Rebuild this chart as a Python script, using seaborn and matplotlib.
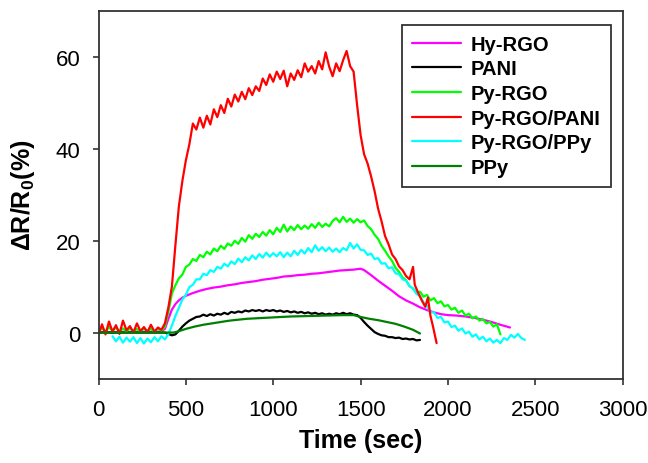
import numpy as np
import pandas as pd
import matplotlib
matplotlib.use("Agg")
import matplotlib.pyplot as plt
import seaborn as sns

# ---------------- data ----------------
series_names = ["Hy-RGO", "PANI", "Py-RGO", "Py-RGO/PANI", "Py-RGO/PPy", "PPy"]
series_colors = ["#ff00ff", "#000000", "#00ff00", "#ff0000", "#00ffff", "#008000"]

t_hy = [0, 40, 80, 120, 160, 200, 240, 280, 320, 360, 380, 400, 420, 440, 460, 480, 500,
        540, 580, 620, 660, 700, 740, 780, 820, 860, 900, 940, 980, 1020, 1060, 1100,
        1140, 1180, 1220, 1260, 1300, 1340, 1380, 1420, 1460, 1500, 1520, 1560, 1600,
        1640, 1680, 1720, 1760, 1800, 1840, 1880, 1920, 1960, 2000, 2050, 2100, 2150,
        2200, 2250, 2300, 2355]
y_hy = [0.0, 0.2, 0.0, 0.2, 0.1, 0.2, 0.1, 0.2, 0.1, 0.3, 0.8, 3.0, 5.0, 6.2, 7.0, 7.6, 8.0,
        8.6, 9.1, 9.5, 9.8, 10.0, 10.3, 10.5, 10.8, 11.0, 11.2, 11.5, 11.7, 11.9, 12.2, 12.3,
        12.5, 12.6, 12.8, 12.9, 13.1, 13.3, 13.5, 13.6, 13.7, 13.9, 13.6, 12.5, 11.3,
        10.2, 9.1, 7.9, 7.0, 6.3, 5.5, 4.9, 4.4, 4.0, 3.8, 3.7, 3.5, 3.2,
        2.8, 2.3, 1.7, 1.1]

t_pani = [0, 100, 200, 300, 380, 400, 420, 440, 460, 480, 500, 520, 540, 560, 580, 600,
          620, 640, 660, 680, 700, 720, 740, 760, 780, 800, 820, 840, 860, 880, 900, 920,
          940, 960, 980, 1000, 1020, 1040, 1060, 1080, 1100, 1120, 1140, 1160, 1180, 1200,
          1220, 1240, 1260, 1280, 1300, 1320, 1340, 1360, 1380, 1400, 1420, 1440, 1460,
          1480, 1500, 1520, 1540, 1560, 1580, 1600, 1620, 1640, 1660, 1680, 1700, 1720,
          1740, 1760, 1780, 1800, 1820, 1840]
y_pani = [0.0, 0.0, 0.0, 0.0, 0.0, -0.3, -0.6, -0.4, 0.4, 1.3, 2.0, 2.6, 3.0, 3.4, 3.5, 3.9,
          3.6, 4.0, 3.7, 4.1, 3.9, 4.3, 4.0, 4.5, 4.3, 4.6, 4.4, 4.8, 4.6, 4.9, 4.7, 4.9,
          4.6, 4.9, 4.7, 4.9, 4.6, 4.8, 4.5, 4.7, 4.4, 4.6, 4.3, 4.5, 4.2, 4.4,
          4.1, 4.3, 4.0, 4.2, 3.9, 4.1, 3.9, 4.2, 4.0, 4.3, 4.0, 4.2, 3.9,
          3.8, 3.2, 2.3, 1.5, 0.8, 0.1, -0.3, -0.6, -0.7, -1.0, -1.0, -1.2, -1.1,
          -1.4, -1.3, -1.5, -1.4, -1.7, -1.6]

t_pyrgo = [0, 20, 40, 60, 80, 100, 120, 140, 160, 180, 200, 220, 240, 260, 280, 300, 320,
           340, 360, 380, 400, 420, 440, 460, 480, 500, 520, 540, 560, 580, 600, 620, 640,
           660, 680, 700, 720, 740, 760, 780, 800, 820, 840, 860, 880, 900, 920, 940, 960,
           980, 1000, 1020, 1040, 1060, 1080, 1100, 1120, 1140, 1160, 1180, 1200, 1220,
           1240, 1260, 1280, 1300, 1320, 1340, 1360, 1380, 1400, 1420, 1440, 1460, 1480,
           1500, 1520, 1540, 1560, 1580, 1600, 1620, 1640, 1660, 1680, 1700, 1720, 1740,
           1760, 1780, 1800, 1820, 1840, 1860, 1880, 1900, 1920, 1940, 1960, 1980, 2000,
           2020, 2040, 2060, 2080, 2100, 2120, 2140, 2160, 2180, 2200, 2220, 2240, 2260,
           2280, 2300]
y_pyrgo = [0.3, 1.0, 0.2, 1.2, 0.4, 1.1, 0.3, 0.9, 0.2, 1.0, 0.3, 0.8, 0.2, 0.9, 0.3, 0.8, 0.2,
           0.9, 0.4, 1.3, 4.5, 8.5, 10.3, 11.8, 12.6, 14.3, 14.8, 16.0, 15.6, 16.9, 16.4, 17.6, 17.0,
           18.3, 17.7, 18.9, 18.2, 19.4, 18.9, 20.0, 19.3, 20.6, 19.8, 21.2, 20.4, 21.5, 20.8, 21.9, 21.1,
           22.3, 21.4, 22.8, 21.9, 23.5, 22.0, 23.1, 22.3, 23.4, 22.5, 23.3, 22.6, 23.6,
           22.8, 23.9, 23.0, 23.7, 23.1, 24.3, 24.9, 24.0, 25.2, 24.1, 24.8, 23.9, 24.7,
           24.0, 24.4, 23.2, 22.5, 21.3, 20.4, 18.9, 17.8, 16.6, 15.6, 14.1, 13.2, 12.0,
           11.4, 10.1, 9.6, 8.6, 8.9, 7.8, 8.2, 7.0, 7.5, 6.4, 6.8, 5.7, 6.0,
           5.0, 5.4, 4.3, 4.8, 3.7, 4.1, 3.1, 3.5, 2.6, 2.9, 2.0, 2.3, 1.3,
           1.8, -0.4]

t_pani_c = [0, 20, 40, 60, 80, 100, 120, 140, 160, 180, 200, 220, 240, 260, 280, 300, 320,
            340, 360, 380, 400, 420, 440, 460, 480, 500, 520, 540, 560, 580, 600, 620, 640,
            660, 680, 700, 720, 740, 760, 780, 800, 820, 840, 860, 880, 900, 920, 940, 960,
            980, 1000, 1020, 1040, 1060, 1080, 1100, 1120, 1140, 1160, 1180, 1200, 1220,
            1240, 1260, 1280, 1300, 1320, 1340, 1360, 1380, 1400, 1420, 1440, 1460, 1480,
            1500, 1520, 1540, 1560, 1580, 1600, 1620, 1640, 1660, 1680, 1700, 1720, 1740,
            1760, 1780, 1800, 1810, 1830, 1850, 1870, 1885, 1900, 1915, 1935]
y_pani_c = [-0.5, 1.8, -0.4, 2.4, 0.2, 1.6, -0.3, 2.6, 0.5, 1.4, 0.0, 2.0, 0.3, 1.2, 0.1, 1.7, 0.2,
            1.1, 0.6, 2.0, 5.5, 10.0, 19.0, 27.5, 33.0, 37.5, 41.0, 45.5, 44.2, 46.8, 44.6, 47.2, 45.3,
            48.6, 46.9, 49.5, 47.8, 50.9, 49.2, 51.8, 50.3, 52.4, 50.8, 53.2, 51.7, 53.6, 52.6, 55.3, 53.9,
            56.2, 54.6, 56.8, 55.2, 57.0, 53.6, 56.4, 55.0, 57.1, 55.6, 58.6, 56.8, 58.0,
            56.4, 59.1, 57.3, 61.0, 57.9, 55.8, 58.6, 56.9, 59.3, 61.3, 58.0, 56.8, 49.5,
            43.0, 38.8, 36.8, 34.0, 30.8, 27.0, 24.2, 21.0, 19.2, 17.0, 16.0, 14.4, 13.6,
            12.3, 11.6, 14.3, 10.4, 8.6, 7.0, 5.6, 7.6, 3.6, 1.2, -2.3]

t_pyrgo_ppy = [80, 100, 120, 140, 160, 180, 200, 220, 240, 260, 280, 300, 320, 340, 360, 380,
               400, 420, 440, 460, 480, 500, 520, 540, 560, 580, 600, 620, 640, 660, 680, 700,
               720, 740, 760, 780, 800, 820, 840, 860, 880, 900, 920, 940, 960, 980, 1000,
               1020, 1040, 1060, 1080, 1100, 1120, 1140, 1160, 1180, 1200, 1220, 1240, 1260,
               1280, 1300, 1320, 1340, 1360, 1380, 1400, 1420, 1440, 1460, 1480, 1500, 1520,
               1540, 1560, 1580, 1600, 1620, 1640, 1660, 1680, 1700, 1720, 1740, 1760, 1780,
               1800, 1820, 1840, 1860, 1880, 1900, 1920, 1940, 1960, 1980, 2000, 2020, 2040,
               2060, 2080, 2100, 2120, 2140, 2160, 2180, 2200, 2220, 2240, 2260, 2280, 2300,
               2320, 2340, 2360, 2380, 2400, 2420, 2440]
y_pyrgo_ppy = [-0.8, -1.9, -0.9, -2.2, -1.1, -2.0, -1.0, -2.3, -1.2, -2.4, -1.3, -2.1, -1.0, -1.9, -0.8, -1.5,
               -0.3, 1.5, 3.6, 5.4, 7.2, 8.2, 9.9, 10.4, 11.6, 11.6, 12.8, 12.5, 13.6, 13.2, 14.3, 13.9,
               15.0, 14.4, 15.5, 14.9, 16.1, 15.3, 16.4, 15.7, 16.8, 16.0, 17.1, 16.3, 17.4, 16.5, 17.3,
               16.6, 17.5, 16.4, 17.4, 16.6, 17.8, 16.9, 18.0, 17.2, 18.4, 17.5, 19.0, 17.8,
               18.6, 17.7, 18.5, 17.6, 18.3, 17.5, 18.4, 17.9, 19.5, 18.3, 19.2, 18.0, 17.9,
               16.9, 17.2, 16.0, 16.2, 15.0, 15.1, 14.0, 14.2, 12.9, 12.7, 11.6, 11.3, 10.1,
               9.6, 8.4, 8.0, 6.6, 5.8, 4.4, 4.4, 3.2, 3.4, 2.2, 2.4, 1.2, 1.5,
               0.4, 0.9, -0.2, 0.2, -0.9, -0.4, -1.5, -0.9, -1.9, -1.3, -2.2, -1.6, -2.3,
               -1.2, -1.6, -0.5, -1.1, -0.3, -1.2, -1.6]

t_ppy = [0, 100, 200, 300, 400, 430, 460, 500, 550, 600, 650, 700, 750, 800, 850, 900, 950,
         1000, 1100, 1200, 1300, 1400, 1460, 1500, 1550, 1600, 1650, 1700, 1750, 1800, 1840]
y_ppy = [0.0, 0.0, 0.0, 0.0, 0.0, 0.0, 0.3, 0.8, 1.3, 1.7, 2.0, 2.3, 2.6, 2.8, 3.0, 3.1, 3.2,
         3.3, 3.5, 3.6, 3.7, 3.8, 3.8, 3.4, 3.0, 2.7, 2.3, 1.9, 1.3, 0.6, -0.2]

x_ticks = [0, 500, 1000, 1500, 2000, 2500, 3000]
y_ticks = [0, 20, 40, 60]

series = {
    "Hy-RGO": (t_hy, y_hy),
    "PANI": (t_pani, y_pani),
    "Py-RGO": (t_pyrgo, y_pyrgo),
    "Py-RGO/PANI": (t_pani_c, y_pani_c),
    "Py-RGO/PPy": (t_pyrgo_ppy, y_pyrgo_ppy),
    "PPy": (t_ppy, y_ppy),
}
for k, (tt, yy) in series.items():
    assert len(tt) == len(yy), (k, len(tt), len(yy))

# ---------------- plot ----------------
sns.set_style("white")
plt.rcParams["font.family"] = ["Liberation Sans", "DejaVu Sans"]
plt.rcParams["text.color"] = "black"
plt.rcParams["axes.labelcolor"] = "black"
plt.rcParams["xtick.color"] = "black"
plt.rcParams["ytick.color"] = "black"

fig = plt.figure(figsize=(6.48, 4.64), dpi=100)
ax = fig.add_axes([98.5 / 648, 1 - 379.5 / 464, 524.2 / 648, 367.5 / 464])

draw_order = ["Hy-RGO", "PANI", "Py-RGO", "Py-RGO/PPy", "Py-RGO/PANI", "PPy"]
color_map = dict(zip(series_names, series_colors))
handles = {}
for name in draw_order:
    tt, yy = series[name]
    df = pd.DataFrame({"t": tt, "y": yy})
    sns.lineplot(data=df, x="t", y="y", ax=ax, color=color_map[name], lw=1.6,
                 estimator=None, sort=False, label=name)
    handles[name] = ax.lines[-1]

ax.set_xlim(0, 3000)
ax.set_ylim(-10, 70)
ax.set_xticks(x_ticks)
ax.set_yticks(y_ticks)
ax.tick_params(axis="both", which="major", direction="out", length=4, width=1.2,
               color="#333333", labelsize=16, labelcolor="black", bottom=True, left=True)
ax.tick_params(axis="x", pad=11)
ax.tick_params(axis="y", pad=9)
for s in ax.spines.values():
    s.set_visible(True)
    s.set_color("#333333")
    s.set_linewidth(1.3)

ax.set_xlabel("Time (sec)", fontsize=18, fontweight="bold", color="black")
ax.set_ylabel("ΔR/R$_\\mathregular{0}$(%)", fontsize=18, fontweight="bold", color="black")
ax.xaxis.set_label_coords(0.5, -0.135)
ax.yaxis.set_label_coords(-0.117, 0.5)

leg = ax.legend([handles[n] for n in series_names], series_names,
                loc="upper right", bbox_to_anchor=(0.977, 0.963), borderaxespad=0,
                frameon=True, fancybox=False, framealpha=1,
                prop={"weight": "bold", "size": 14.5},
                handlelength=2.4, handletextpad=0.5, labelspacing=0.28, borderpad=0.5)
leg.get_frame().set_edgecolor("#333333")
leg.get_frame().set_linewidth(1.3)
for line in leg.get_lines():
    line.set_linewidth(1.6)
for txt in leg.get_texts():
    txt.set_color("black")

fig.savefig("out.png", dpi=100)
